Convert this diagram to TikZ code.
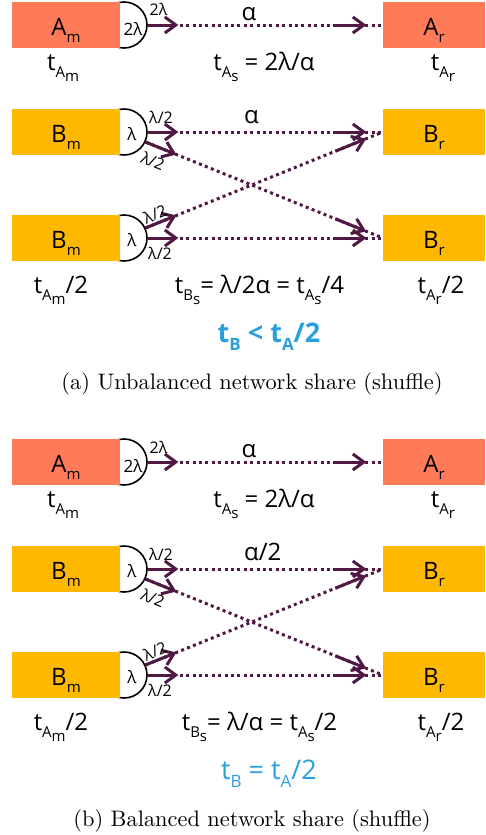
\documentclass[tikz,border=0pt]{standalone}
\usepackage{fontspec}
\newfontfamily\diagfont{Open Sans}
\newfontfamily\capfont{lmroman10-regular}[Extension=.otf]
\usetikzlibrary{arrows.meta,positioning,calc}

\definecolor{mapcolor}{RGB}{255,122,87}
\definecolor{shufcolor}{RGB}{255,184,0}
\definecolor{linkcolor}{RGB}{80,25,68}
\definecolor{noteblue}{RGB}{41,160,222}

% lowered index, same size at every level
\newcommand{\idx}[2][15]{\raisebox{-0.3em}{\fontsize{#1}{#1}\selectfont #2}}

\tikzset{
  task/.style={minimum width=108pt, minimum height=46pt, inner sep=0pt,
    text height=20pt, text depth=0pt, font=\diagfont\fontsize{24}{24}\selectfont},
  atask/.style={task, fill=mapcolor},
  btask/.style={task, fill=shufcolor},
  port/.style={draw, circle, line width=1.6pt, minimum size=46pt, inner sep=0pt},
  portlabel/.style={anchor=base, inner sep=0pt, font=\diagfont\fontsize{17}{17}\selectfont},
  ratelabel/.style={inner sep=0pt, font=\diagfont\fontsize{16}{16}\selectfont},
  timing/.style={anchor=base, inner sep=0pt, font=\diagfont\fontsize{24}{24}\selectfont},
  relation/.style={anchor=base, inner sep=0pt, text=noteblue, font=\diagfont\fontsize{27}{27}\selectfont},
  captext/.style={anchor=base, inner sep=0pt, font=\capfont\fontsize{22.4}{26}\selectfont},
  netlink/.style={linkcolor, line width=3pt, dash pattern=on 3pt off 3.4pt},
  sendarrow/.style={linkcolor, line width=3pt, -{Straight Barb[length=11pt,width=16pt]}},
}

% dotted link with a solid arrow at each end
\newcommand{\shuffleflow}[2]{%
  \draw[netlink] (#1) -- (#2);
  \draw[sendarrow] (#1) -- ($(#1)!0.13!(#2)$);
  \draw[sendarrow] ($(#1)!0.8!(#2)$) -- ($(#1)!0.93!(#2)$);
}

% one panel: prefix, shift, B rate, B formula, relation, caption
\newcommand{\sharepanel}[6]{%
  \begin{scope}[yshift=#2]
    % A
    \node[port] (#1-ap) at (124,25) {};
    \node[atask] (#1-am) at (66,25) {A\idx{m}};
    \node[atask, minimum width=102pt] (#1-ar) at (434,25) {A\idx{r}};
    \node[portlabel] (#1-apl) at (133,35) {2λ};
    \node[ratelabel, anchor=base] (#1-arate) at (158.5,16) {2λ};
    \node[timing] (#1-aalpha) at (249,20) {α};
    \shuffleflow{#1-ap.east}{#1-ar.west}
    \node[timing] (#1-tam) at (63,70) {t\idx{A\idx{m}}};
    \node[timing] (#1-tas) at (264,70) {t\idx{A\idx{s}} = 2λ/α};
    \node[timing] (#1-tar) at (443,70) {t\idx{A\idx{r}}};
    % B
    \node[port] (#1-bp1) at (124,132) {};
    \node[port] (#1-bp2) at (124,238) {};
    \node[btask] (#1-bm1) at (66,132) {B\idx{m}};
    \node[btask] (#1-bm2) at (66,238) {B\idx{m}};
    \node[btask, minimum width=102pt] (#1-br1) at (434,132) {B\idx{r}};
    \node[btask, minimum width=102pt] (#1-br2) at (434,238) {B\idx{r}};
    \node[portlabel] (#1-bpl1) at (132,140) {λ};
    \node[portlabel] (#1-bpl2) at (132,246) {λ};
    \shuffleflow{#1-bp1.east}{#1-br1.west}
    \shuffleflow{#1-bp1.-25}{#1-br2.west}
    \shuffleflow{#1-bp2.25}{#1-br1.west}
    \shuffleflow{#1-bp2.east}{#1-br2.west}
    \node[ratelabel, anchor=base] (#1-r1) at (161,123) {λ/2};
    \node[ratelabel, rotate=-22] (#1-r2) at (153,161) {λ/2};
    \node[ratelabel, rotate=22] (#1-r3) at (155,214) {λ/2};
    \node[ratelabel, anchor=base] (#1-r4) at (160,259) {λ/2};
    \node[timing, anchor=base west] (#1-balpha) at (244,123) {#3};
    \node[timing] (#1-tbm) at (61,293) {t\idx{A\idx{m}}/2};
    \node[timing] (#1-tbs) at (259.5,293) {#4};
    \node[timing] (#1-tbr) at (441,293) {t\idx{A\idx{r}}/2};
    \node[relation] (#1-rel) at (269,342) {#5};
    \node[captext] (#1-cap) at (252,389) {#6};
  \end{scope}
}

\begin{document}
\begin{tikzpicture}[x=1pt,y=-1pt]
  \useasboundingbox (0,0) rectangle (485,835);
  % (a) unbalanced
  \sharepanel{a}{0pt}{α}{t\idx{B\idx{s}}= λ/2α = t\idx{A\idx{s}}/4}%
    {\bfseries t\idx[17]{B} < t\idx[17]{A}/2}{(a) Unbalanced network share (shuffle)}
  % (b) balanced
  \sharepanel{b}{-437pt}{α/2}{t\idx{B\idx{s}}= λ/α = t\idx{A\idx{s}}/2}%
    {t\idx[17]{B} = t\idx[17]{A}/2}{(b) Balanced network share (shuffle)}
\end{tikzpicture}
\end{document}
